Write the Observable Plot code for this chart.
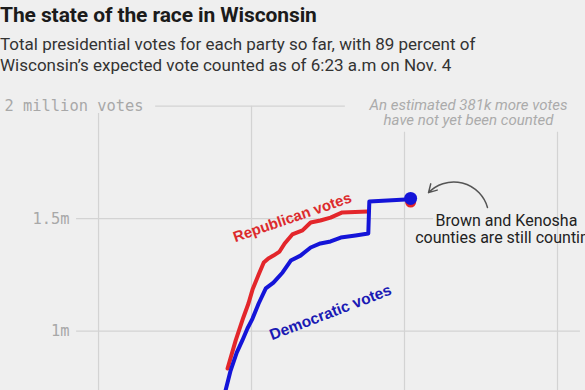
<!DOCTYPE html>
<html>
<head>
<meta charset="utf-8">
<script src="https://cdn.jsdelivr.net/npm/d3@7"></script>
<script src="https://cdn.jsdelivr.net/npm/@observablehq/plot@0.6"></script>
<style>
  html, body { margin: 0; padding: 0; background: #efefef; overflow: hidden; }
  body { width: 585px; height: 390px; position: relative; font-family: Roboto, "Liberation Sans", sans-serif; }
  #title { position: absolute; left: 0; top: 3px; font-size: 21px; font-weight: 700; color: #1b1b1b; letter-spacing: -0.1px; white-space: nowrap; }
  #subtitle { position: absolute; left: 0; top: 34px; font-size: 17px; line-height: 21px; color: #333; white-space: nowrap; }
  #chart { position: absolute; left: 0; top: 90px; }
</style>
</head>
<body>
<div id="title">The state of the race in Wisconsin</div>
<div id="subtitle">Total presidential votes for each party so far, with 89 percent of<br>Wisconsin’s expected vote counted as of 6:23 a.m on Nov. 4</div>
<div id="chart"></div>
<script>
// x: hours of election night (24 = midnight), y: millions of votes
const repHours  = [23.53, 23.69, 23.84, 23.94, 24.02, 24.14, 24.24, 24.33, 24.43, 24.55, 24.65, 24.80, 25.00, 25.16, 25.35, 25.55, 25.78, 26.28];
const repVotes  = [0.834, 0.959, 1.061, 1.123, 1.185, 1.252, 1.305, 1.323, 1.336, 1.354, 1.390, 1.430, 1.448, 1.483, 1.492, 1.505, 1.528, 1.532];
const demHours  = [23.45, 23.59, 23.71, 23.82, 23.92, 24.02, 24.14, 24.28, 24.43, 24.61, 24.77, 24.96, 25.16, 25.35, 25.55, 25.75, 26.04, 26.29, 26.31, 27.02];
const demVotes  = [0.700, 0.825, 0.905, 0.959, 1.012, 1.056, 1.123, 1.190, 1.216, 1.261, 1.314, 1.336, 1.372, 1.390, 1.399, 1.416, 1.425, 1.434, 1.576, 1.585];
const latestHour = 27.12;
const latestRep = 1.574;
const latestDem = 1.590;

const gridHours = [21, 24, 27, 30];
const gridTops  = [1.968, 2.0, 1.884, 1.884];
const tickValues = [2, 1.5, 1];
const tickLabels = ["2 million votes", "1.5m", "1m"];
const gridStarts = [22.12, 20.57, 20.57];
const gridEnds   = [25.84, 27.57, 30.45];

const rep = repHours.map((h, i) => ({h, v: repVotes[i]}));
const dem = demHours.map((h, i) => ({h, v: demVotes[i]}));
const vGrid = gridHours.map((h, i) => ({h, top: gridTops[i]}));
const hGrid = tickValues.map((v, i) => ({v, label: tickLabels[i], x1: gridStarts[i], x2: gridEnds[i]}));

const red = "#e3262b", blue = "#1414d8", gridColor = "#d3d3d3";
const yMin = 0.7364, yMax = 2;

const chart = Plot.plot({
  width: 585, height: 300,
  marginTop: 15.7, marginBottom: 0, marginLeft: 0, marginRight: 0,
  x: {domain: [19.078, 30.549], axis: null},
  y: {domain: [yMin, yMax], axis: null},
  style: {background: "transparent", overflow: "visible"},
  marks: [
    Plot.ruleX(vGrid, {x: "h", y1: yMin - 0.1, y2: "top", stroke: gridColor, strokeWidth: 1.2}),
    Plot.ruleY(hGrid, {y: "v", x1: "x1", x2: "x2", stroke: gridColor, strokeWidth: 1.2}),
    Plot.text(hGrid.slice(0, 1), {x: 19.157, y: "v", text: "label", textAnchor: "start", fontFamily: "DejaVu Sans Mono", fontSize: 15.4, fill: "#a8a8a8"}),
    Plot.text(hGrid.slice(1), {x: 20.431, y: "v", text: "label", textAnchor: "end", fontFamily: "DejaVu Sans Mono", fontSize: 15.4, fill: "#a8a8a8"}),
    Plot.line(rep, {x: "h", y: "v", stroke: red, strokeWidth: 4, strokeLinejoin: "round", clip: true}),
    Plot.line(dem, {x: "h", y: "v", stroke: blue, strokeWidth: 4, strokeLinejoin: "round", clip: true}),
    Plot.dot([{h: latestHour, v: latestRep}], {x: "h", y: "v", r: 5.5, fill: red}),
    Plot.dot([{h: latestHour, v: latestDem}], {x: "h", y: "v", r: 6.5, fill: blue}),
    Plot.text(["Republican votes"], {x: 24.80, y: 1.505, text: d => d, rotate: -19, fontSize: 15, fontWeight: 700, fill: "#dc2a2c", fontFamily: "Liberation Sans, Arial, sans-serif"}),
    Plot.text(["Democratic votes"], {x: 25.55, y: 1.083, text: d => d, rotate: -21, fontSize: 15.5, fontWeight: 700, fill: "#1a1ab4", fontFamily: "Liberation Sans, Arial, sans-serif"}),
    Plot.text(["An estimated 381k more votes\nhave not yet been counted"], {x: 28.255, y: 1.970, text: d => d, fontSize: 15, fontStyle: "italic", fill: "#ababab", lineHeight: 1.0, fontFamily: "Roboto, sans-serif"}),
    Plot.text(["Brown and Kenosha\ncounties are still counting"], {x: 29.0, y: 1.454, text: d => d, fontSize: 16, fill: "#222", lineHeight: 1.06, fontFamily: "Roboto, sans-serif"}),
    Plot.arrow([{x1: 28.627, y1: 1.550, x2: 27.471, y2: 1.616}], {x1: "x1", y1: "y1", x2: "x2", y2: "y2", bend: -60, stroke: "#555", strokeWidth: 1.5, headLength: 9})
  ]
});
document.getElementById("chart").appendChild(chart);
</script>
</body>
</html>
